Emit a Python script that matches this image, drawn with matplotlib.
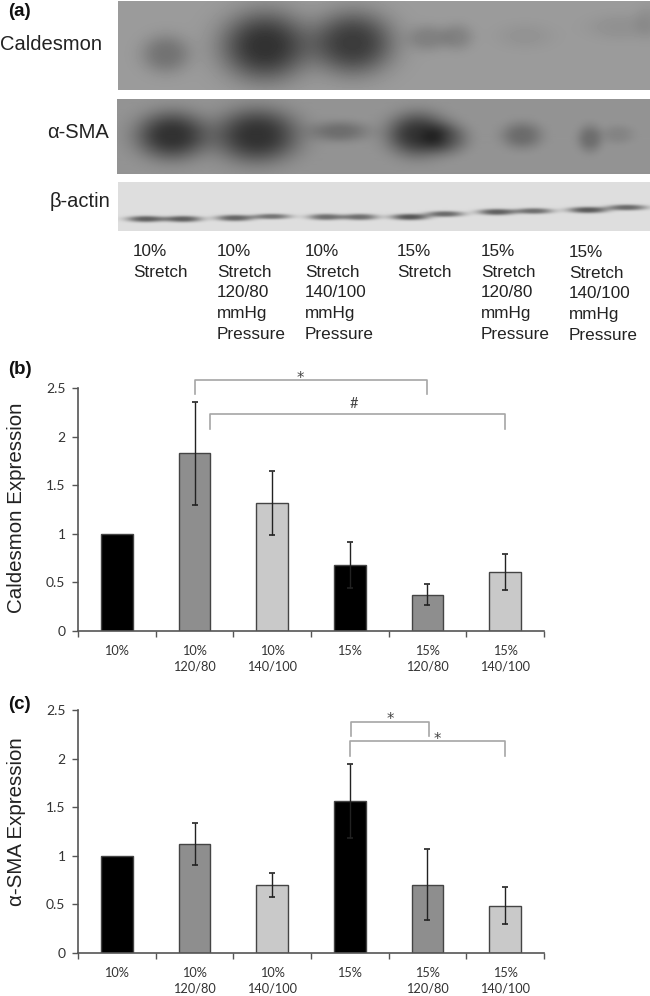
import matplotlib
matplotlib.use('Agg')
import matplotlib.pyplot as plt
import numpy as np

W, H = 650, 996

# bar data (b) and (c)
categories = ['10%', '10%\n120/80', '10%\n140/100', '15%', '15%\n120/80', '15%\n140/100']
caldesmon = [1.0, 1.83, 1.32, 0.68, 0.375, 0.61]
caldesmon_err = [0.0, 0.53, 0.33, 0.24, 0.105, 0.185]
sma = [1.0, 1.12, 0.70, 1.56, 0.70, 0.485]
sma_err = [0.0, 0.215, 0.125, 0.38, 0.365, 0.19]
bar_colors = ['#000000', '#8e8e8e', '#c9c9c9', '#000000', '#8e8e8e', '#c9c9c9']
yticks = [0, 0.5, 1, 1.5, 2, 2.5]
yticklabels = ['0', '0.5', '1', '1.5', '2', '2.5']

# blot bands: x centre, y centre, half width, half height, darkness (pixels of the figure)
caldesmon_bands = [(166, 54, 24, 19, 40), (265, 46, 43, 34, 105), (353, 43, 40, 31, 95),
                   (428, 38, 20, 13, 26), (457, 37, 16, 13, 24), (525, 36, 28, 13, 8),
                   (620, 27, 32, 13, 10), (648, 22, 14, 16, 12)]
sma_bands = [(172, 136, 35, 23, 98), (257, 136, 41, 26, 98), (340, 132, 28, 10, 38),
             (418, 135, 30, 21, 95), (447, 139, 22, 15, 45), (522, 136, 20, 13, 40),
             (590, 139, 12, 13, 38), (618, 135, 16, 9, 16)]
actin_bands = [(146, 219, 19, 3.2, 125), (183, 219, 19, 3.2, 125), (235, 218, 19, 3.2, 120),
               (272, 216.5, 19, 2.8, 105), (326, 217, 18, 3.2, 110), (360, 217, 18, 3.2, 110),
               (410, 217, 19, 3.2, 135), (445, 214, 19, 3, 115), (497, 212, 19, 3.2, 125),
               (534, 211, 19, 3, 110), (588, 210, 20, 3.2, 130), (627, 207.5, 20, 3, 115)]
blot_boxes = [(118, 1, 650, 90), (117, 99, 650, 174), (118, 182, 650, 231)]
blot_grounds = [155, 148, 222]
blot_bands = [caldesmon_bands, sma_bands, actin_bands]

stretch_labels = ['10%\nStretch', '10%\nStretch\n120/80\nmmHg\nPressure',
                  '10%\nStretch\n140/100\nmmHg\nPressure', '15%\nStretch',
                  '15%\nStretch\n120/80\nmmHg\nPressure', '15%\nStretch\n140/100\nmmHg\nPressure']
stretch_x = [133, 217, 305, 397, 481, 569]
stretch_y = [244, 244, 244, 244, 244, 245]


def px_axes(left, top, right, bottom):
    return fig.add_axes([left / W, 1 - bottom / H, (right - left) / W, (bottom - top) / H])


def draw_blot(box, ground, bands):
    x0, y0, x1, y1 = box
    xx, yy = np.meshgrid(np.arange(x0, x1) + 0.5, np.arange(y0, y1) + 0.5)
    img = np.full(xx.shape, float(ground))
    for cx, cy, rx, ry, dark in bands:
        r = ((xx - cx) / rx) ** 2 + ((yy - cy) / ry) ** 2
        img -= dark * np.exp(-r ** 1.3)
    ax = px_axes(x0, y0, x1, y1)
    ax.imshow(img, cmap='gray', vmin=0, vmax=255, aspect='auto', interpolation='bilinear')
    ax.axis('off')


def draw_bars(top, bottom, values, errors, ylabel, label_y):
    ax = px_axes(78, top, 544, bottom)
    x = np.arange(len(values))
    ax.bar(x, values, width=0.41, color=bar_colors, edgecolor='#444444', linewidth=1.0, zorder=2)
    ax.errorbar(x[1:], values[1:], yerr=errors[1:], fmt='none', ecolor='#222222', elinewidth=1.0,
                capsize=2.5, capthick=1.2, zorder=3)
    ax.set_xlim(-0.5, 5.5)
    ax.set_ylim(0, 2.5)
    ax.set_yticks(yticks)
    ax.set_yticklabels(yticklabels, fontsize=10, color='#333333')
    ax.set_xticks(np.arange(-0.5, 6, 1))
    ax.set_xticklabels([])
    ax.set_xticks(x, categories, minor=True, fontsize=9.2, color='#333333', linespacing=1.35)
    ax.tick_params(axis='x', which='minor', length=0, pad=10)
    ax.tick_params(axis='both', which='major', length=4, width=1.0, color='#555555')
    ax.tick_params(axis='y', pad=5)
    for side in ['top', 'right']:
        ax.spines[side].set_visible(False)
    for side in ['left', 'bottom']:
        ax.spines[side].set_color('#555555')
        ax.spines[side].set_linewidth(1.2)
    fig.text(17 / W, 1 - label_y / H, ylabel, rotation=90, fontsize=14.8, ha='center', va='center',
             family='Liberation Sans', color='#222222')
    return ax


def bracket(ax, x0, x1, top, low0, low1):
    ax.plot([x0, x0, x1, x1], [low0, top, top, low1], color='#a6a6a6', lw=1.2, clip_on=False, zorder=4)


def star(ax, x, y):
    ax.text(x, y, '*', ha='center', va='center', fontsize=10.5, color='#444444', family='DejaVu Sans')


fig = plt.figure(figsize=(W / 100, H / 100), dpi=100)
plt.rcParams['font.family'] = ['Lato', 'DejaVu Sans']

# --- panel (a) blots ---
for box, ground, bands in zip(blot_boxes, blot_grounds, blot_bands):
    draw_blot(box, ground, bands)

fig.text(0 / W, 1 - 45 / H, 'Caldesmon', fontsize=14.5, va='center', family='Liberation Sans', color='#222222')
fig.text(109 / W, 1 - 132 / H, 'α-SMA', fontsize=14.5, va='center', ha='right', family='Liberation Sans', color='#222222')
fig.text(110 / W, 1 - 201 / H, 'β-actin', fontsize=14.5, va='center', ha='right', family='Liberation Sans', color='#222222')
for lab, lx, ly in zip(stretch_labels, stretch_x, stretch_y):
    fig.text(lx / W, 1 - ly / H, lab, fontsize=12.3, va='top', family='Liberation Sans', color='#222222', linespacing=1.47)

for lab, ly in zip(['(a)', '(b)', '(c)'], [12, 369, 704]):
    fig.text(8 / W, 1 - ly / H, lab, fontsize=13.5, fontweight='bold', va='center', family='Liberation Sans', color='#111111')

# --- panel (b) ---
ax_b = draw_bars(388, 631, caldesmon, caldesmon_err, 'Caldesmon Expression', 508)
bracket(ax_b, 1, 4, 2.58, 2.44, 2.44)
bracket(ax_b, 1.2, 5, 2.23, 2.08, 2.08)
star(ax_b, 2.36, 2.60)
ax_b.text(3.05, 2.34, '#', ha='center', va='center', fontsize=10.5, color='#444444')

# --- panel (c) ---
ax_c = draw_bars(710, 953, sma, sma_err, 'α-SMA Expression', 822)
bracket(ax_c, 3.02, 4.02, 2.38, 2.23, 2.23)
bracket(ax_c, 3, 5, 2.18, 2.03, 2.03)
star(ax_c, 3.52, 2.40)
star(ax_c, 4.12, 2.20)

fig.savefig('out.png', dpi=100)
